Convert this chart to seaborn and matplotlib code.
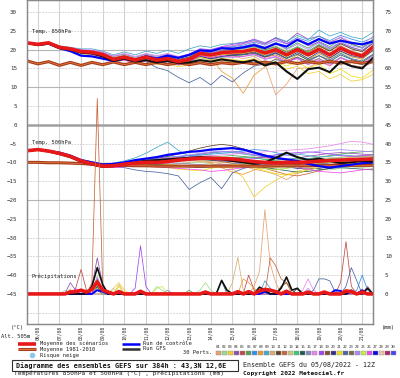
import numpy as np
import pandas as pd
import matplotlib
matplotlib.use('Agg')
import matplotlib.pyplot as plt
from matplotlib.patches import Rectangle
import seaborn as sns

# time axis: 05/08 12Z + 384h, temperatures every 12h, precipitation every 6h
day_labels = ['06/08', '07/08', '08/08', '09/08', '10/08', '11/08', '12/08', '13/08',
              '14/08', '15/08', '16/08', '17/08', '18/08', '19/08', '20/08', '21/08']

# --- Temp 850hPa (degC), 12h steps ---
t850_mean = [21.8, 21.4, 21.8, 20.6, 20.2, 19.5, 19.3, 18.7, 17.4, 18.0, 17.2, 18.0, 17.2, 17.6, 16.8, 17.4, 19.0,
             18.6, 19.2, 19.4, 19.5, 20.1, 19.1, 20.0, 18.6, 20.0, 18.6, 20.1, 18.6, 20.4, 19.1, 18.3, 20.7]
t850_clim = [17.0, 16.2, 16.8, 15.8, 16.6, 15.8, 16.6, 16.0, 16.7, 16.0, 16.6, 16.0, 16.6, 16.0, 16.5, 16.0, 16.5,
             16.0, 16.5, 16.2, 16.6, 16.2, 16.7, 16.2, 16.8, 16.3, 16.8, 16.4, 16.9, 16.4, 16.8, 16.4, 16.8]
t850_ctrl = [21.8, 21.3, 21.6, 20.4, 19.6, 18.4, 18.2, 17.6, 17.0, 17.6, 17.2, 18.2, 17.6, 18.4, 17.8, 18.6, 19.8,
             19.6, 20.4, 20.2, 20.6, 21.2, 20.4, 21.6, 20.8, 22.6, 21.4, 22.8, 21.6, 22.4, 21.8, 21.4, 22.2]
t850_gfs = [21.8, 21.2, 21.6, 20.4, 20.0, 19.2, 19.0, 18.2, 17.0, 17.6, 16.8, 17.2, 16.6, 17.0, 16.4, 16.6, 17.2,
            16.8, 17.4, 17.0, 16.6, 17.2, 15.8, 16.6, 14.2, 12.2, 14.8, 15.2, 14.0, 16.8, 15.6, 15.0, 17.8]

t850_01 = [21.7, 21.3, 21.7, 20.5, 20.0, 19.3, 19.0, 18.4, 17.2, 17.6, 17.0, 17.6, 16.8, 17.4, 16.6, 17.2, 18.6,
           18.0, 18.8, 18.4, 17.6, 18.2, 16.4, 8.0, 10.8, 15.0, 15.2, 16.8, 15.6, 17.8, 16.6, 16.0, 17.8]
t850_02 = [21.9, 21.5, 21.7, 20.5, 20.1, 19.2, 19.0, 18.3, 17.0, 17.4, 16.8, 17.2, 16.4, 16.6, 15.8, 16.4, 17.8,
           17.2, 18.0, 18.4, 18.6, 19.4, 18.4, 19.6, 18.2, 19.4, 17.6, 19.0, 17.4, 19.4, 18.0, 17.6, 19.6]
t850_03 = [21.6, 21.0, 21.4, 20.2, 19.6, 18.9, 18.6, 17.8, 16.6, 17.2, 16.4, 17.0, 16.0, 16.4, 15.4, 16.0, 17.4,
           16.6, 17.2, 16.6, 16.8, 17.2, 15.6, 16.4, 14.8, 15.6, 13.6, 14.2, 12.2, 13.4, 11.6, 12.0, 13.4]
t850_04 = [21.7, 21.4, 21.9, 20.8, 20.5, 19.9, 19.8, 19.2, 18.2, 18.8, 17.8, 18.6, 17.8, 18.0, 17.2, 18.0, 19.8,
           19.6, 20.6, 21.0, 21.6, 22.4, 21.4, 23.2, 22.0, 24.4, 22.8, 23.6, 22.0, 23.2, 21.6, 20.4, 22.4]
t850_05 = [21.8, 21.5, 21.8, 20.6, 20.1, 19.4, 19.2, 18.6, 17.4, 17.8, 17.0, 17.6, 16.8, 17.2, 16.4, 17.0, 18.4,
           17.8, 18.6, 18.8, 19.0, 19.6, 18.6, 19.4, 18.4, 20.4, 19.6, 21.2, 19.8, 21.0, 19.6, 18.8, 21.0]
t850_06 = [21.8, 21.5, 21.9, 20.7, 20.3, 19.7, 19.5, 19.0, 17.8, 18.4, 17.8, 18.8, 18.0, 18.6, 17.8, 18.6, 20.0,
           19.8, 20.2, 20.6, 20.8, 21.6, 20.6, 21.8, 20.2, 21.8, 20.4, 22.2, 20.8, 22.6, 21.4, 20.6, 22.8]
t850_07 = [21.8, 21.4, 21.8, 20.7, 20.2, 19.5, 19.2, 18.6, 17.4, 17.8, 17.4, 18.2, 17.6, 18.4, 17.8, 18.4, 19.6,
           19.4, 20.2, 20.8, 21.2, 22.0, 21.2, 22.4, 21.6, 23.2, 22.2, 23.6, 22.4, 23.8, 22.8, 22.0, 23.2]
t850_08 = [21.9, 21.5, 21.9, 20.8, 20.4, 19.8, 19.6, 19.0, 17.8, 18.4, 17.6, 18.6, 17.8, 18.4, 17.8, 18.6, 19.2,
           18.0, 14.2, 12.4, 8.4, 13.2, 15.4, 17.6, 16.8, 18.6, 17.2, 19.0, 17.6, 19.6, 18.2, 17.4, 19.8]
t850_09 = [21.8, 21.6, 22.0, 21.0, 20.6, 20.2, 20.2, 19.6, 18.6, 19.4, 18.6, 19.6, 19.0, 19.8, 19.0, 20.2, 21.0,
           20.6, 21.4, 21.6, 22.0, 22.6, 21.6, 23.2, 22.2, 23.8, 22.6, 25.2, 23.6, 24.6, 23.4, 22.8, 24.6]
t850_10 = [21.7, 21.4, 21.7, 20.6, 20.3, 19.7, 19.6, 19.0, 17.9, 18.6, 17.8, 18.4, 17.6, 18.0, 17.2, 17.6, 18.8,
           18.4, 19.0, 19.4, 19.2, 19.8, 18.8, 19.8, 18.8, 20.4, 19.4, 20.8, 19.6, 21.4, 20.4, 19.6, 21.6]
t850_11 = [21.8, 21.4, 21.8, 20.6, 20.2, 19.6, 19.4, 18.9, 17.8, 18.4, 17.6, 18.4, 17.6, 18.2, 17.4, 18.0, 19.4,
           19.2, 19.8, 20.2, 20.4, 21.0, 20.0, 20.8, 19.4, 20.6, 19.2, 21.0, 19.6, 21.6, 20.2, 19.4, 21.8]
t850_12 = [21.8, 21.4, 21.7, 20.5, 20.0, 19.4, 19.2, 18.6, 17.5, 18.0, 17.4, 18.0, 17.4, 17.8, 17.0, 17.6, 18.6,
           18.2, 18.8, 18.8, 18.8, 19.2, 18.0, 18.6, 17.2, 18.0, 16.6, 17.6, 16.2, 17.0, 15.8, 15.4, 16.6]
t850_13 = [21.9, 21.5, 21.9, 20.8, 20.4, 19.8, 19.6, 19.1, 18.0, 18.6, 17.8, 18.6, 17.8, 18.4, 17.6, 18.4, 19.8,
           19.4, 20.0, 20.4, 20.6, 21.2, 20.2, 21.0, 19.6, 20.8, 19.4, 20.6, 19.0, 20.8, 19.6, 18.8, 21.0]
t850_14 = [21.8, 21.5, 21.8, 20.7, 20.3, 19.6, 19.4, 18.8, 17.6, 18.2, 17.4, 18.2, 17.4, 17.8, 17.0, 17.8, 19.4,
           19.0, 19.6, 20.0, 20.2, 20.8, 19.8, 20.6, 19.2, 20.8, 19.4, 21.4, 20.0, 21.8, 20.6, 19.8, 22.0]
t850_15 = [21.6, 21.3, 21.6, 20.4, 20.0, 19.3, 19.0, 18.4, 17.2, 17.6, 17.0, 17.6, 16.8, 17.2, 16.4, 17.0, 18.2,
           17.6, 18.2, 18.4, 18.6, 19.0, 18.0, 19.0, 17.6, 18.8, 17.2, 18.4, 16.8, 18.6, 17.4, 16.6, 18.6]
t850_16 = [21.7, 21.3, 21.6, 20.4, 20.0, 19.2, 18.9, 18.2, 17.0, 17.4, 16.8, 17.4, 16.6, 17.0, 16.2, 16.8, 18.0,
           17.4, 18.0, 18.0, 18.2, 18.6, 17.4, 18.0, 16.6, 17.8, 16.2, 17.6, 16.2, 18.0, 16.8, 16.0, 17.6]
t850_17 = [21.9, 21.6, 22.0, 20.9, 20.5, 20.0, 19.9, 19.4, 18.4, 19.0, 18.2, 19.0, 18.4, 19.0, 18.2, 18.8, 20.2,
           19.8, 20.6, 21.0, 21.4, 22.2, 21.2, 22.6, 21.4, 23.0, 21.6, 23.0, 21.6, 23.4, 22.0, 21.2, 23.6]
t850_18 = [21.7, 21.4, 21.8, 20.7, 20.2, 19.6, 19.4, 18.8, 17.6, 18.2, 17.6, 18.4, 17.8, 18.6, 18.0, 18.8, 20.2,
           20.0, 20.8, 21.4, 21.8, 22.8, 21.8, 23.0, 21.6, 22.6, 21.0, 22.0, 20.4, 21.8, 20.6, 19.8, 21.6]
t850_20 = [21.7, 21.2, 21.5, 20.3, 19.9, 19.1, 18.8, 18.2, 17.0, 17.4, 16.6, 17.2, 16.4, 16.8, 16.2, 16.8, 18.2,
           17.6, 18.2, 18.6, 18.8, 19.4, 18.2, 19.2, 17.8, 19.2, 17.6, 19.4, 17.8, 19.6, 18.4, 17.8, 19.8]
t850_21 = [21.8, 21.4, 21.7, 20.5, 20.1, 19.4, 19.2, 18.5, 17.3, 17.8, 17.0, 17.6, 16.8, 17.0, 16.2, 16.8, 18.0,
           17.2, 17.6, 17.4, 17.0, 17.6, 16.2, 16.8, 15.6, 16.8, 15.0, 16.2, 13.6, 14.8, 13.0, 12.4, 14.6]
t850_22 = [21.6, 21.2, 21.6, 20.4, 20.0, 19.6, 19.0, 18.4, 17.6, 17.8, 17.0, 16.8, 15.2, 14.4, 12.6, 11.2, 12.6,
           10.6, 13.2, 11.4, 13.8, 15.6, 16.2, 17.4, 16.6, 18.0, 16.8, 18.4, 17.2, 19.0, 17.6, 17.0, 18.8]
t850_24 = [21.9, 21.6, 21.9, 20.8, 20.4, 19.9, 19.7, 19.2, 18.2, 18.8, 18.0, 18.8, 18.2, 18.8, 18.0, 18.6, 19.6,
           19.2, 19.8, 20.4, 20.8, 21.6, 20.6, 21.6, 20.0, 21.4, 20.0, 21.8, 20.2, 22.2, 21.0, 20.4, 22.2]
t850_25 = [21.8, 21.3, 21.6, 20.4, 19.9, 19.3, 19.1, 18.5, 17.2, 17.8, 17.2, 17.8, 17.0, 17.4, 16.6, 17.4, 18.8,
           18.2, 18.6, 19.0, 19.0, 19.6, 18.6, 19.6, 18.0, 19.6, 18.2, 19.8, 18.2, 20.2, 18.8, 18.0, 20.4]
t850_26 = [21.6, 21.3, 21.6, 20.3, 19.8, 19.1, 18.8, 18.0, 16.8, 17.2, 16.4, 17.0, 16.2, 16.8, 16.0, 16.6, 18.4,
           17.8, 18.4, 18.0, 18.2, 18.8, 17.6, 18.2, 16.8, 17.6, 16.0, 17.2, 15.8, 17.8, 16.6, 16.2, 18.2]

# --- Temp 500hPa (degC), 12h steps ---
t500_mean = [-6.9, -6.6, -7.0, -7.6, -8.4, -9.6, -10.4, -11.0, -10.9, -10.5, -10.2, -10.0, -10.0, -9.8, -9.4, -9.1,
             -8.9, -8.9, -9.0, -9.1, -9.4, -9.8, -10.0, -10.1, -10.0, -10.0, -9.9, -9.7, -9.5, -9.4, -9.3, -9.2, -9.1]
t500_clim = [-10.0, -10.0, -10.1, -10.1, -10.2, -10.3, -10.5, -10.6, -10.7, -10.8, -10.9, -10.9, -11.0, -11.0, -11.0,
             -11.0, -11.0, -11.0, -11.0, -11.0, -11.0, -11.0, -11.0, -10.9, -10.9, -10.9, -10.9, -10.8, -10.8, -10.8,
             -10.8, -10.8, -10.8]
t500_ctrl = [-6.9, -6.6, -7.0, -7.4, -8.2, -9.4, -10.0, -10.6, -10.4, -10.0, -9.4, -9.0, -8.6, -8.0, -7.6, -7.2,
             -7.0, -6.6, -6.4, -6.2, -6.6, -7.4, -8.2, -8.8, -9.2, -9.6, -10.4, -11.0, -11.4, -11.0, -10.6, -10.2, -10.0]
t500_gfs = [-6.9, -6.6, -7.1, -7.8, -8.6, -9.8, -10.6, -11.2, -11.0, -10.6, -10.0, -9.6, -9.4, -9.2, -9.0, -8.8,
            -8.6, -8.8, -9.2, -9.6, -10.0, -10.4, -10.0, -8.8, -7.4, -8.6, -9.4, -9.0, -9.6, -10.2, -10.0, -9.6, -9.8]

t500_01 = [-6.8, -6.5, -6.9, -7.6, -8.4, -9.7, -10.6, -11.2, -11.2, -10.8, -10.6, -10.6, -10.8, -10.6, -10.4, -10.0,
           -9.8, -10.0, -10.4, -10.6, -11.0, -11.8, -12.4, -13.2, -14.6, -13.0, -12.0, -11.2, -10.6, -10.0, -9.6, -9.4, -9.2]
t500_02 = [-6.9, -6.7, -7.1, -7.7, -8.5, -9.7, -10.6, -11.2, -11.2, -11.0, -10.8, -10.8, -10.8, -10.6, -10.4, -10.2,
           -10.0, -10.4, -10.8, -11.0, -11.2, -11.4, -11.6, -11.8, -11.6, -11.2, -11.4, -11.8, -12.0, -11.6, -11.2, -11.4, -11.6]
t500_03 = [-6.9, -6.7, -7.1, -7.7, -8.6, -9.8, -10.6, -11.2, -11.0, -10.8, -10.4, -10.2, -10.4, -10.6, -10.8, -11.0,
           -11.2, -11.0, -11.2, -11.6, -14.0, -19.2, -16.6, -14.8, -13.2, -12.4, -11.6, -11.0, -10.8, -10.4, -10.2, -10.0, -10.2]
t500_04 = [-6.8, -6.5, -6.9, -7.4, -8.2, -9.4, -10.2, -10.8, -10.6, -10.2, -9.8, -9.6, -9.4, -9.0, -8.6, -8.2,
           -7.8, -7.4, -7.2, -7.0, -7.4, -8.0, -8.6, -9.0, -9.2, -8.8, -8.4, -8.0, -7.6, -7.4, -7.6, -7.8, -8.0]
t500_05 = [-6.8, -6.6, -7.0, -7.6, -8.5, -9.7, -10.5, -11.0, -10.8, -10.4, -10.2, -10.2, -10.0, -9.8, -9.6, -9.4,
           -9.4, -9.2, -9.0, -8.8, -8.6, -8.6, -8.8, -9.0, -9.4, -9.8, -10.2, -10.4, -10.6, -10.2, -9.8, -9.6, -9.4]
t500_06 = [-6.8, -6.5, -6.9, -7.5, -8.3, -9.5, -10.3, -10.9, -10.8, -10.4, -10.0, -9.8, -9.6, -9.4, -9.2, -9.0,
           -8.8, -8.6, -8.4, -8.2, -8.4, -8.8, -9.2, -9.6, -9.8, -9.4, -9.0, -8.6, -8.2, -7.8, -7.4, -7.2, -7.0]
t500_07 = [-6.9, -6.6, -7.0, -7.5, -8.3, -9.5, -10.2, -10.8, -10.6, -10.2, -9.8, -9.4, -9.0, -8.6, -8.4, -8.2,
           -8.0, -7.8, -7.6, -7.4, -7.0, -6.6, -6.8, -7.4, -8.0, -8.6, -9.0, -9.4, -9.6, -9.8, -9.6, -9.2, -9.0]
t500_08 = [-7.0, -6.6, -7.0, -7.5, -8.2, -9.4, -10.2, -10.8, -10.6, -10.2, -9.8, -9.4, -9.2, -8.8, -8.6, -8.8,
           -9.2, -10.2, -11.4, -12.6, -13.2, -12.0, -11.2, -10.8, -10.4, -10.6, -10.0, -9.6, -9.2, -9.0, -8.6, -8.4, -8.2]
t500_09 = [-6.9, -6.6, -7.0, -7.5, -8.2, -9.2, -9.8, -10.4, -10.2, -9.6, -8.8, -7.6, -6.0, -4.6, -6.8, -8.4,
           -8.2, -7.6, -7.2, -7.4, -7.8, -8.2, -8.4, -8.0, -7.6, -7.8, -8.2, -8.6, -8.4, -8.0, -8.2, -8.6, -8.4]
t500_10 = [-6.9, -6.6, -7.0, -7.6, -8.4, -9.6, -10.4, -11.0, -11.0, -10.8, -10.4, -10.2, -10.0, -9.8, -9.8, -9.6,
           -9.6, -9.8, -10.0, -10.2, -10.4, -10.8, -11.2, -11.4, -11.2, -10.8, -10.4, -10.0, -9.6, -9.2, -8.8, -8.6, -8.4]
t500_11 = [-6.9, -6.6, -7.0, -7.6, -8.3, -9.5, -10.3, -10.9, -10.7, -10.3, -9.8, -9.4, -9.0, -8.4, -7.8, -7.0,
           -6.2, -5.6, -5.2, -5.6, -6.4, -7.2, -8.0, -8.6, -9.2, -9.6, -10.0, -10.2, -10.0, -9.6, -9.2, -9.0, -8.8]
t500_12 = [-6.9, -6.7, -7.1, -7.7, -8.5, -9.7, -10.5, -11.1, -11.0, -10.6, -10.2, -10.0, -9.8, -9.6, -9.4, -9.2,
           -9.2, -9.4, -9.8, -10.2, -10.6, -11.0, -11.6, -12.4, -13.2, -13.6, -13.0, -12.2, -11.6, -11.0, -10.6, -10.4, -10.2]
t500_13 = [-6.9, -6.6, -7.0, -7.5, -8.3, -9.5, -10.3, -10.9, -10.7, -10.3, -9.9, -9.6, -9.4, -9.2, -9.0, -8.6,
           -8.4, -8.2, -8.4, -8.8, -9.2, -9.6, -9.8, -9.8, -9.6, -9.4, -9.2, -9.0, -8.8, -8.6, -8.4, -8.2, -8.2]
t500_14 = [-6.9, -6.6, -7.0, -7.6, -8.4, -9.5, -10.3, -10.9, -10.8, -10.4, -10.1, -9.9, -9.8, -9.6, -9.4, -9.2,
           -9.2, -9.4, -9.2, -8.8, -8.6, -8.8, -9.2, -9.4, -9.2, -9.0, -9.2, -9.4, -9.0, -8.8, -9.0, -9.2, -9.0]
t500_15 = [-7.0, -6.7, -7.1, -7.7, -8.6, -9.8, -10.6, -11.2, -11.2, -11.0, -10.8, -10.6, -10.6, -10.8, -11.0, -11.2,
           -11.4, -11.2, -11.0, -10.8, -10.8, -11.0, -11.4, -11.8, -12.2, -12.6, -12.4, -12.0, -11.6, -11.4, -11.6, -11.8, -12.0]
t500_16 = [-6.9, -6.7, -7.1, -7.7, -8.5, -9.7, -10.5, -11.1, -11.0, -10.8, -10.6, -10.4, -10.4, -10.2, -10.2, -10.4,
           -10.6, -10.8, -10.6, -10.4, -10.2, -10.0, -10.4, -10.8, -11.0, -10.6, -10.2, -10.0, -10.4, -10.8, -10.6, -10.2, -10.0]
t500_17 = [-6.9, -6.6, -7.0, -7.6, -8.3, -9.5, -10.3, -10.9, -10.8, -10.4, -10.0, -9.8, -9.8, -9.6, -9.2, -8.8,
           -8.4, -8.2, -8.0, -7.8, -7.6, -7.4, -7.2, -7.0, -6.8, -6.6, -6.4, -6.0, -5.6, -5.0, -4.4, -4.6, -5.2]
t500_18 = [-6.9, -6.6, -7.0, -7.6, -8.4, -9.6, -10.4, -10.9, -10.8, -10.4, -10.0, -9.6, -9.2, -9.0, -8.8, -8.6,
           -8.4, -8.6, -8.8, -9.0, -9.2, -9.0, -8.6, -8.0, -7.6, -7.4, -7.2, -7.4, -7.8, -8.2, -8.4, -8.2, -8.0]
t500_20 = [-6.9, -6.6, -7.0, -7.6, -8.4, -9.6, -10.5, -11.1, -11.0, -10.7, -10.4, -10.2, -10.2, -10.0, -9.6, -9.4,
           -9.2, -9.4, -9.6, -9.8, -10.0, -10.4, -10.8, -11.0, -11.2, -11.6, -11.8, -11.6, -11.2, -10.8, -10.6, -10.4, -10.4]
t500_21 = [-6.9, -6.6, -7.0, -7.6, -8.4, -9.6, -10.4, -11.0, -10.9, -10.6, -10.4, -10.6, -11.0, -11.4, -11.8, -12.0,
           -12.2, -11.6, -11.0, -10.6, -10.8, -11.4, -12.2, -13.0, -13.4, -12.8, -12.0, -11.4, -11.0, -10.8, -10.6, -10.8, -11.0]
t500_22 = [-6.9, -6.7, -7.1, -7.7, -8.5, -9.6, -10.4, -11.0, -11.2, -11.4, -12.0, -12.4, -12.6, -13.0, -13.6, -17.2,
           -15.4, -14.0, -17.0, -12.8, -11.6, -11.0, -10.6, -10.8, -10.4, -10.6, -10.2, -10.4, -10.0, -10.2, -9.8, -9.6, -9.8]
t500_24 = [-6.8, -6.5, -6.9, -7.5, -8.2, -9.4, -10.2, -10.7, -10.5, -10.1, -9.7, -9.3, -9.0, -8.7, -8.4, -8.0,
           -7.6, -7.2, -7.0, -7.2, -7.6, -8.0, -8.2, -8.4, -8.2, -7.8, -7.4, -7.0, -6.8, -6.6, -6.8, -7.0, -7.2]
t500_25 = [-6.9, -6.7, -7.1, -7.6, -8.4, -9.6, -10.4, -11.0, -11.0, -10.6, -10.2, -10.0, -9.8, -9.6, -9.4, -9.2,
           -9.0, -9.0, -9.2, -9.6, -10.2, -11.0, -11.6, -12.0, -11.6, -11.0, -10.6, -10.2, -10.0, -9.8, -9.6, -9.4, -9.2]
t500_26 = [-7.0, -6.7, -7.1, -7.7, -8.6, -9.8, -10.7, -11.3, -11.4, -11.2, -11.0, -11.0, -11.2, -11.4, -11.6, -11.8,
           -12.0, -12.4, -12.2, -11.8, -11.4, -11.0, -10.8, -10.6, -10.8, -11.2, -11.8, -12.4, -12.6, -12.8, -12.4, -12.0, -11.8]

# --- precipitation (mm), 6h steps: only the non-zero steps are listed ---
pr_member = ['05', '05', '05', '05', '05', '05', '05', '05', '05',
             '12', '12', '12', '12', '12', '12', '12',
             '04', '04', '04', '04', '04',
             '18', '18', '18', '18',
             '02', '02', '02', '02', '02', '02', '02',
             '08', '08', '08', '08', '08', '08',
             '01', '01', '01', '01', '01', '01',
             '03', '03', '03', '03',
             '09', '09', '09',
             '11', '11', '11', '11',
             '26', '26', '26',
             '06', '06',
             '20', '20', '20',
             '17', '17', '17', '17', '17',
             '25', '25', '25',
             '10', '10', '10', '10', '10',
             '07', '07', '07', '07', '07',
             '15', '15', '15',
             '13', '13',
             '14', '14', '16', '16', '21', '21', '24', '24',
             '22', '22', '22', '22', '22', '22', '22', '22', '22']
pr_step = [9, 10, 11, 41, 42, 58, 59, 60, 63,
           12, 13, 14, 45, 46, 47, 48,
           8, 9, 12, 13, 14,
           13, 20, 21, 22,
           7, 13, 24, 25, 32, 33, 34,
           8, 13, 14, 40, 41, 42,
           13, 42, 43, 44, 45, 46,
           13, 16, 17, 18,
           13, 44, 45,
           13, 47, 48, 49,
           9, 13, 14,
           13, 30,
           11, 13, 17,
           12, 13, 51, 52, 53,
           13, 24, 25,
           13, 17, 38, 39, 40,
           8, 13, 61, 62, 63,
           13, 36, 50,
           13, 16,
           13, 44, 13, 26, 13, 17, 13, 52,
           13, 53, 54, 55, 56, 57, 59, 60, 61]
pr_mm = [1.5, 6.5, 1.0, 5.0, 1.0, 3.0, 13.9, 2.0, 2.0,
         3.0, 52.0, 2.0, 9.6, 7.5, 4.0, 3.0,
         3.0, 1.0, 2.0, 9.6, 2.5,
         4.0, 1.5, 12.8, 2.0,
         1.0, 5.0, 2.0, 1.0, 1.0, 3.0, 1.0,
         1.2, 4.0, 1.0, 4.0, 3.0, 1.5,
         3.0, 2.0, 6.0, 22.4, 8.0, 3.0,
         2.0, 1.5, 3.0, 1.0,
         2.0, 3.5, 1.5,
         2.5, 2.0, 3.0, 1.0,
         1.5, 3.5, 1.5,
         2.5, 1.0,
         1.0, 2.0, 1.0,
         1.2, 4.5, 1.0, 4.0, 1.0,
         1.5, 1.5, 2.0,
         3.0, 2.5, 3.0, 9.7, 1.0,
         1.0, 2.0, 1.0, 5.0, 1.0,
         1.0, 3.5, 1.5,
         2.5, 1.5,
         2.0, 1.5, 1.5, 1.0, 2.5, 2.0, 3.0, 1.5,
         1.5, 1.0, 4.0, 4.0, 3.5, 0.5, 2.0, 7.0, 3.5]

pr_mean_step = [8, 9, 10, 11, 12, 13, 14, 15, 17, 21, 33, 39, 41, 43, 44, 45, 46, 48, 52, 55, 59, 60, 62]
pr_mean_mm = [0.5, 0.6, 1.0, 0.5, 1.2, 3.2, 1.0, 0.5, 0.6, 0.7, 0.5, 0.6, 0.6, 0.8, 1.2, 1.0, 0.6, 0.7, 0.5,
              0.5, 0.8, 0.6, 0.5]
pr_gfs_step = [12, 13, 14, 36, 37, 43, 44, 47, 48, 49, 50, 60, 63]
pr_gfs_mm = [2.0, 7.0, 2.5, 3.6, 1.0, 1.8, 1.0, 1.5, 4.5, 1.0, 1.5, 1.0, 1.5]
pr_ctrl_step = [13, 14, 44, 57, 58, 60, 62]
pr_ctrl_mm = [1.0, 0.6, 0.6, 1.0, 0.8, 0.6, 1.0]

pert_ids = ['%02d' % i for i in range(1, 31)]
pert_colors = ['#e8a070', '#a0d890', '#f0d030', '#9050b0', '#c04848', '#50a050', '#3090f0', '#f09830',
               '#40a8c8', '#d8b070', '#604028', '#c86438', '#c8c880', '#40c878', '#205858', '#8888c8',
               '#e888e8', '#a048f0', '#885030', '#303088', '#f0e010', '#4a64a0', '#806848', '#a888f8',
               '#c0f048', '#f048f0', '#0808e8', '#e8c8a8', '#a82868', '#4848f0']
pal = dict(zip(pert_ids, pert_colors))

drawn = ['01', '02', '03', '04', '05', '06', '07', '08', '09', '10', '11', '12', '13', '14', '15', '16',
         '17', '18', '20', '21', '22', '24', '25', '26']

n12 = len(t850_mean)
day12 = np.arange(n12) * 0.5
day6 = np.arange(2 * n12 - 1) * 0.25

rows = []
for m in drawn:
    a = globals()['t850_' + m]
    b = globals()['t500_' + m]
    for k in range(n12):
        rows.append({'member': m, 'day': day12[k], 't850': a[k], 't500': b[k]})
temps = pd.DataFrame(rows)


def spread_steps(steps, vals):
    out = np.zeros(len(day6))
    for s, v in zip(steps, vals):
        out[s] = v
    return out


ev = pd.DataFrame({'member': pr_member, 'step': pr_step, 'mm': pr_mm})
prow = []
for m in drawn:
    sub = ev[ev['member'] == m]
    arr = spread_steps(sub['step'], sub['mm'])
    for j in range(len(day6)):
        prow.append({'member': m, 'day': day6[j], 'mm': arr[j]})
precip = pd.DataFrame(prow)

sns.set_style('white')
plt.rcParams['font.family'] = ['DejaVu Sans Mono']

fig = plt.figure(figsize=(4.0, 3.78), dpi=100)
ax = fig.add_axes([27 / 400, 1 - 324 / 378, 346 / 400, 324 / 378])

# grid
for d in np.arange(16) + 0.5:
    ax.axvline(d, color='#d2d2d2', lw=0.8, zorder=0.5)
for v in range(-50, 35, 5):
    if v == 0:
        ax.axhline(v, color='#a0a0a0', lw=1.8, zorder=0.5)
    elif v in (20, 10, -20):
        ax.axhline(v, color='#b4b4b4', lw=0.8, zorder=0.5)
    else:
        ax.axhline(v, color='#cccccc', lw=0.6, ls=(0, (2, 1.5)), zorder=0.5)

sns.lineplot(data=temps, x='day', y='t850', hue='member', palette=pal, linewidth=0.55,
             legend=False, estimator=None, ax=ax)
sns.lineplot(data=temps, x='day', y='t500', hue='member', palette=pal, linewidth=0.55,
             legend=False, estimator=None, ax=ax)

for series in (t850_clim, t500_clim):
    sns.lineplot(x=day12, y=series, color='#a83c1c', linewidth=2.2, ax=ax)
    sns.lineplot(x=day12, y=series, color='#e88040', linewidth=0.5, ax=ax)
for series in (t850_ctrl, t500_ctrl):
    sns.lineplot(x=day12, y=series, color='#0000ff', linewidth=1.6, ax=ax)
for series in (t850_gfs, t500_gfs):
    sns.lineplot(x=day12, y=series, color='#101010', linewidth=1.5, ax=ax)
for series in (t850_mean, t500_mean):
    sns.lineplot(x=day12, y=series, color='#e81818', linewidth=2.6, ax=ax)

ax.set_xlim(0, 16)
ax.set_ylim(-53.0, 33.2)
ax.set_yticks(range(-45, 31, 5))
ax.set_xticks(np.arange(16) + 0.5)
ax.set_xticklabels(day_labels, rotation=90)
ax.tick_params(axis='y', labelsize=4.2, pad=7.2, length=0, colors='#303030')
ax.tick_params(axis='x', labelsize=3.4, pad=1.0, length=0, colors='#303030')
ax.set_xlabel('')
ax.set_ylabel('')

ax2 = ax.twinx()
sns.lineplot(data=precip, x='day', y='mm', hue='member', palette=pal, linewidth=0.55,
             legend=False, estimator=None, ax=ax2)
sns.lineplot(x=day6, y=spread_steps(pr_ctrl_step, pr_ctrl_mm), color='#0000ff', linewidth=1.4, ax=ax2)
sns.lineplot(x=day6, y=spread_steps(pr_gfs_step, pr_gfs_mm), color='#101010', linewidth=1.2, ax=ax2)
sns.lineplot(x=day6, y=spread_steps(pr_mean_step, pr_mean_mm), color='#e81818', linewidth=2.6, ax=ax2)
ax2.set_ylim(-8.0, 78.2)
ax2.set_yticks(range(0, 76, 5))
ax2.tick_params(axis='y', labelsize=4.2, pad=8.6, length=0, colors='#303030')
ax2.set_ylabel('')

for a in (ax, ax2):
    for s in a.spines.values():
        s.set_color('#8a8a8a')
        s.set_linewidth(0.9)

ax.text(0.23, 24.7, 'Temp. 850hPa', fontsize=3.9, va='center', color='#202020')
ax.text(0.23, -4.7, 'Temp. 500hPa', fontsize=3.9, va='center', color='#202020')
ax.text(0.23, -40.3, 'Précipitations', fontsize=3.9, va='center', color='#202020')

# bottom legend and captions, in pixel coordinates
ov = fig.add_axes([0, 0, 1, 1])
ov.set_xlim(0, 400)
ov.set_ylim(378, 0)
ov.axis('off')
small = dict(fontsize=3.9, va='center', color='#202020')
ov.text(11, 327, '(°C)', **small)
ov.text(1, 337, 'Alt. 505m', **small)
ov.text(382, 328, '(mm)', **small)
ov.plot([18, 36], [343.5, 343.5], color='#e81818', lw=2.6, solid_capstyle='butt')
ov.text(40, 343.5, 'Moyenne des scénarios', **small)
ov.plot([18, 36], [349, 349], color='#a83c1c', lw=2.2, solid_capstyle='butt')
ov.plot([18, 36], [349, 349], color='#e88040', lw=0.6, solid_capstyle='butt')
ov.text(40, 349, 'Moyenne 1981-2010', **small)
ov.plot([32], [355], 'o', color='#8cc8e8', ms=3)
ov.text(40, 355, 'Risque neige', **small)
ov.plot([122, 140], [344, 344], color='#0000ff', lw=1.8, solid_capstyle='butt')
ov.text(143, 343.5, 'Run de contrôle', **small)
ov.plot([122, 140], [349, 349], color='#303030', lw=1.8, solid_capstyle='butt')
ov.text(143, 349, 'Run GFS', **small)
ov.text(183, 352.5, '30 Perts.', **small)
for i, (pid, col) in enumerate(zip(pert_ids, pert_colors)):
    x0 = 216 + 6.03 * i
    ov.text(x0 + 2.5, 347.5, pid, fontsize=2.9, ha='center', va='center', color='#303030')
    ov.add_patch(Rectangle((x0, 350.5), 5, 4, facecolor=col, edgecolor='#909090', lw=0.3))

ov.add_patch(Rectangle((12, 360), 226, 10.5, fill=False, edgecolor='#303030', lw=0.8))
ov.text(16, 365.5, 'Diagramme des ensembles GEFS sur 384h : 43,3N 12,6E', fontsize=4.9,
        fontweight='bold', va='center', color='#101010')
ov.text(14, 373.5, 'Températures 850hPa et 500hPa (°C) , précipitations (mm)', fontsize=4.4,
        va='center', color='#202020')
ov.text(243, 364.5, 'Ensemble GEFS du 05/08/2022 - 12Z', fontsize=4.8, va='center', color='#202020')
ov.text(243, 373.5, 'Copyright 2022 Meteociel.fr', fontsize=4.4, fontweight='bold', va='center',
        color='#101010')

fig.savefig('out.png', dpi=100)
